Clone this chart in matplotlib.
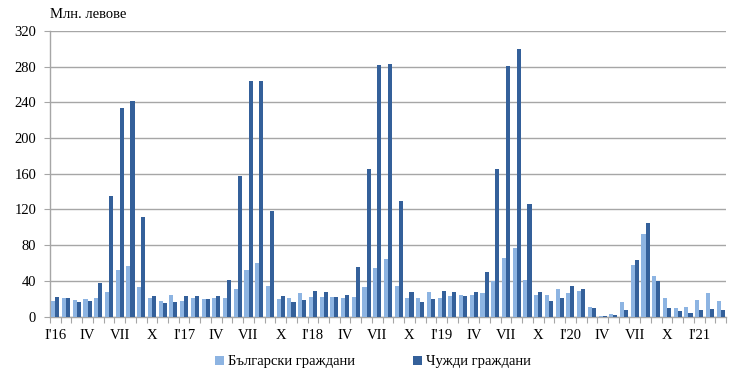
import matplotlib
matplotlib.use("Agg")
import matplotlib.pyplot as plt
import numpy as np

plt.rcParams['font.family'] = ['Liberation Serif', 'DejaVu Serif']

# Monthly data, Jan 2016 - Mar 2021 (million BGN)
bulgarian = [
    17, 20.7, 18.5, 19.6, 20.7, 28, 52, 57, 33, 20.7, 17, 24.4,        # 2016
    17, 20.7, 19.6, 20.7, 20.7, 30.7, 52, 59.5, 34.6, 19.6, 20.7, 26,  # 2017
    21.5, 22, 21.5, 20.7, 22, 33.5, 54.3, 64.4, 34.6, 21, 21, 27,      # 2018
    21, 23.4, 24.5, 24.3, 26, 40, 65.5, 76.5, 40.5, 24, 24, 30.7,      # 2019
    26, 29, 11, 0.7, 3, 16, 58, 93, 45.5, 20.8, 9.8, 11,               # 2020
    18.6, 26, 17.5,                                                    # 2021
]
foreign = [
    22, 20.7, 16, 17, 38, 135, 234, 242, 112, 23, 14.8, 16,            # 2016
    23, 23, 19.6, 23, 40.7, 157, 264.5, 264.5, 118, 23, 16, 18.6,      # 2017
    28.2, 27.2, 22, 24.5, 55.7, 165.5, 282, 283, 130, 27.2, 16, 19.7,  # 2018
    28.7, 27.2, 23.5, 27, 49.6, 165.5, 280.5, 300, 126.5, 27, 17, 20.7,  # 2019
    34.4, 30.7, 9.6, 0.7, 1.5, 7.4, 63, 104.5, 40.2, 9.8, 6, 3.7,      # 2020
    7.4, 8.5, 7.4,                                                     # 2021
]
tick_labels = ["I'16", "IV", "VII", "X", "I'17", "IV", "VII", "X",
               "I'18", "IV", "VII", "X", "I'19", "IV", "VII", "X",
               "I'20", "IV", "VII", "X", "I'21"]
series_names = ["Български граждани", "Чужди граждани"]
y_ticks = [0, 40, 80, 120, 160, 200, 240, 280, 320]

light_c = '#8DB4E2'
dark_c = '#34609A'
grid_c = '#A6A6A6'

fig = plt.figure(figsize=(7.4, 3.81), dpi=100)
ax = fig.add_axes([50/740, 1 - 316.5/381, 676/740, (316.5 - 31)/381])

x = np.arange(len(bulgarian))
w = 0.38
b1 = ax.bar(x - w/2, bulgarian, width=w, color=light_c, label=series_names[0], zorder=3)
b2 = ax.bar(x + w/2, foreign, width=w, color=dark_c, label=series_names[1], zorder=3)

ax.set_xlim(-0.5, len(bulgarian) - 0.5)
ax.set_ylim(0, 320)
ax.set_yticks(y_ticks)
ax.yaxis.grid(True, color=grid_c, linewidth=1.0, zorder=0)
ax.set_axisbelow(True)

ax.set_xticks(np.arange(0, len(tick_labels) * 3, 3))
ax.set_xticklabels(tick_labels)
ax.set_xticks(np.arange(-0.5, len(bulgarian), 1), minor=True)
ax.tick_params(axis='x', which='major', length=0, pad=9, labelsize=10.5)
ax.tick_params(axis='x', which='minor', length=4, color=grid_c, width=0.8, direction='out')
ax.tick_params(axis='y', length=4, color=grid_c, width=0.8, pad=6, labelsize=10.5)

for s in ['top', 'right']:
    ax.spines[s].set_visible(False)
for s in ['left', 'bottom']:
    ax.spines[s].set_color(grid_c)
    ax.spines[s].set_linewidth(1.0)

fig.text(50/740, 1 - 15/381, "Млн. левове", fontsize=10.5, ha='left', va='center')

fig.legend(handles=[b1, b2], labels=series_names, loc='center',
           bbox_to_anchor=(373/740, 1 - 362/381), ncol=2, frameon=False,
           fontsize=10.5, handlelength=0.6, handleheight=0.6, handletextpad=0.3,
           columnspacing=4.0)

fig.savefig('out.png', dpi=100)
